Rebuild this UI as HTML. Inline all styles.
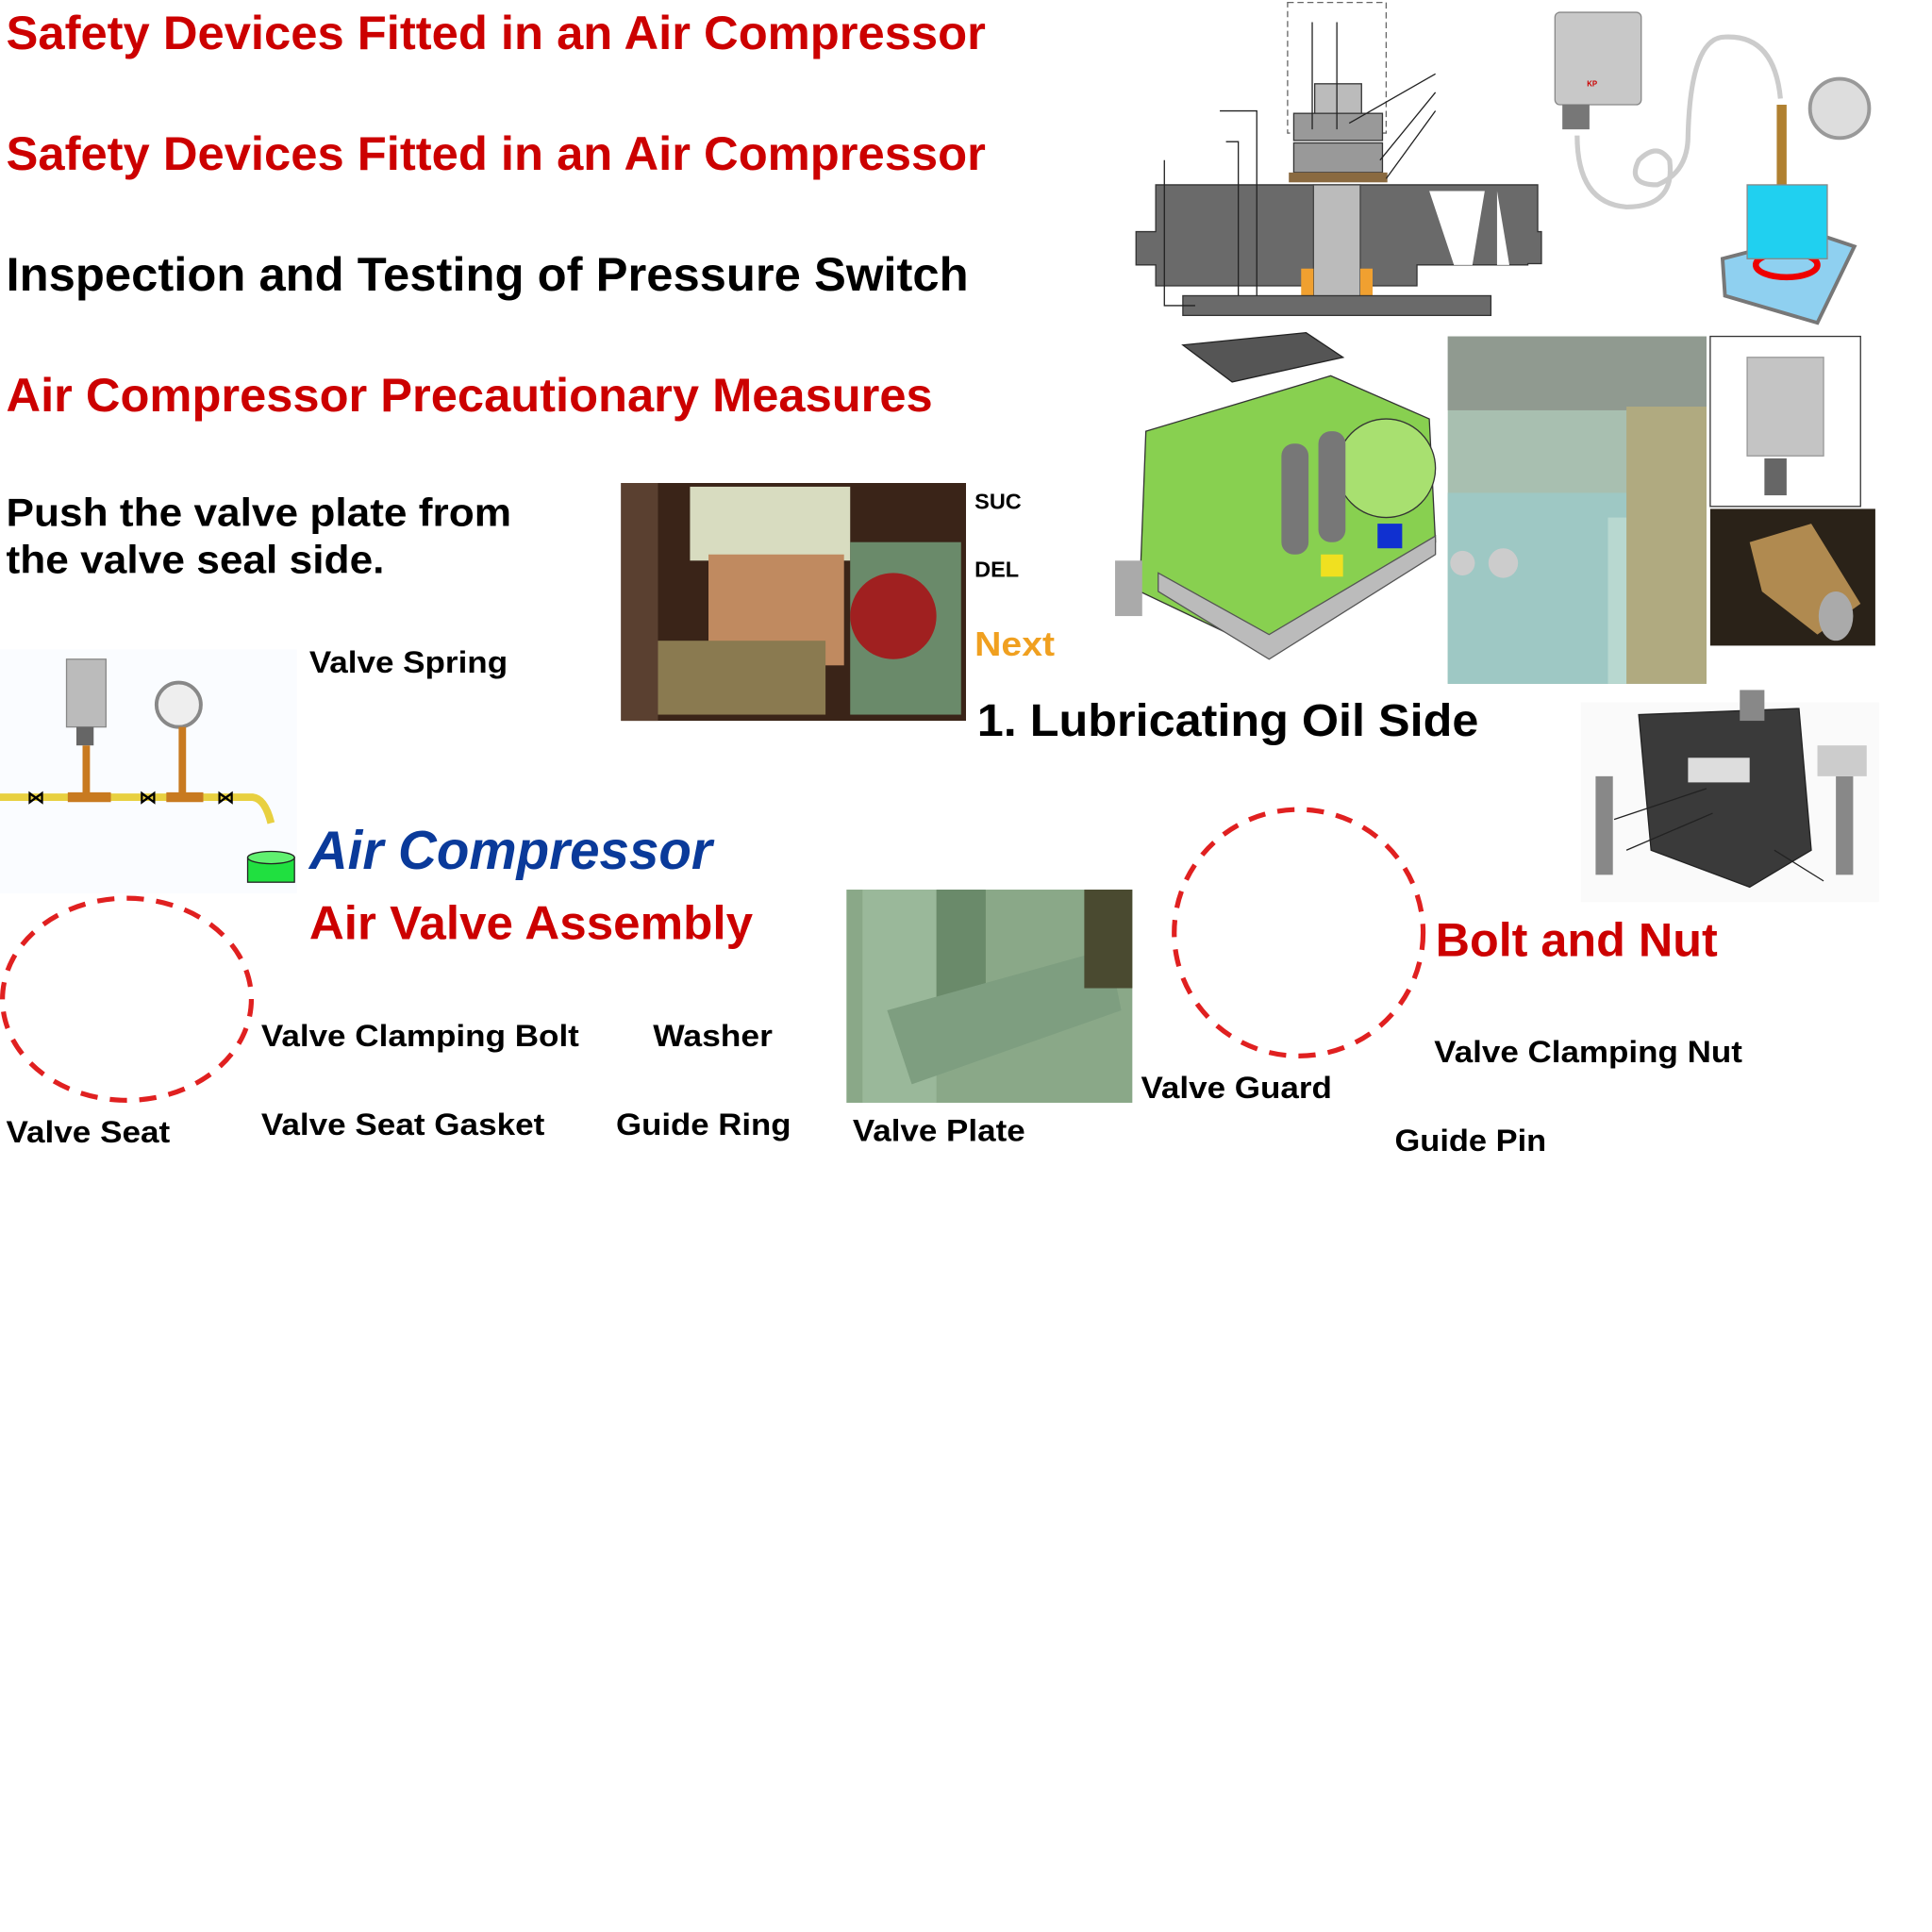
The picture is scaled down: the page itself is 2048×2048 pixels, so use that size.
<!DOCTYPE html>
<html><head><meta charset="utf-8"><style>
html,body{margin:0;padding:0;background:#fff;}
svg{display:block;}
text{font-family:"Liberation Sans",Arial,sans-serif;font-weight:bold;}
</style></head><body>
<svg width="2048" height="2048" viewBox="0 0 1568 1568" xmlns="http://www.w3.org/2000/svg">
<rect width="1568" height="1568" fill="#fff"/>

<text x="5" y="40" font-size="38" fill="#cc0000" textLength="795" lengthAdjust="spacingAndGlyphs">Safety Devices Fitted in an Air Compressor</text>
<text x="5" y="138" font-size="38" fill="#cc0000" textLength="795" lengthAdjust="spacingAndGlyphs">Safety Devices Fitted in an Air Compressor</text>
<text x="5" y="236" font-size="38" fill="#000" textLength="781" lengthAdjust="spacingAndGlyphs">Inspection and Testing of Pressure Switch</text>
<text x="5" y="334" font-size="38" fill="#cc0000" textLength="752" lengthAdjust="spacingAndGlyphs">Air Compressor Precautionary Measures</text>
<text x="5" y="427" font-size="32" fill="#000" textLength="410" lengthAdjust="spacingAndGlyphs">Push the valve plate from</text>
<text x="5" y="465" font-size="32" fill="#000" textLength="307" lengthAdjust="spacingAndGlyphs">the valve seal side.</text>

<g>
<rect x="504" y="392" width="280" height="193" fill="#3a2418"/>
<rect x="560" y="395" width="130" height="60" fill="#d8dcc0"/>
<rect x="575" y="450" width="110" height="90" fill="#c08a60"/>
<rect x="690" y="440" width="90" height="140" fill="#6a8a6a"/>
<circle cx="725" cy="500" r="35" fill="#a02020"/>
<rect x="530" y="520" width="140" height="60" fill="#8a7a50"/>
<rect x="504" y="392" width="30" height="193" fill="#5a4030"/>
</g>
<text x="791" y="413" font-size="18" fill="#000">SUC</text>
<text x="791" y="468" font-size="18" fill="#000">DEL</text>
<text x="791" y="532" font-size="28" fill="#f0a020" textLength="65" lengthAdjust="spacingAndGlyphs">Next</text>
<text x="793" y="597" font-size="37" fill="#000" textLength="407" lengthAdjust="spacingAndGlyphs">1. Lubricating Oil Side</text>

<g>
<rect x="1045" y="2" width="80" height="106" fill="none" stroke="#666" stroke-dasharray="5,3"/>
<rect x="1067" y="68" width="38" height="30" fill="#bbb" stroke="#333"/>
<rect x="1050" y="92" width="72" height="22" fill="#999" stroke="#333"/>
<rect x="1050" y="116" width="72" height="24" fill="#999" stroke="#333"/>
<rect x="1046" y="140" width="80" height="8" fill="#8a6a40"/>
<path d="M938 150 H1248 V188 H1251 V214 H1240 V215 H1150 V232 H938 V215 H922 V188 H938 Z" fill="#6a6a6a" stroke="#333"/>
<rect x="1066" y="150" width="38" height="95" fill="#bbb" stroke="#444"/>
<rect x="1056" y="218" width="10" height="28" fill="#f0a030"/>
<rect x="1104" y="218" width="10" height="28" fill="#f0a030"/>
<rect x="960" y="240" width="250" height="16" fill="#6a6a6a" stroke="#333"/>
<path d="M1160 155 L1180 215 L1195 215 L1205 155 Z M1215 155 L1215 215 L1225 215 Z" fill="#fff"/>
<path d="M1065 18 V105 M1085 18 V105 M1095 100 L1165 60 M1120 130 L1165 75 M1125 145 L1165 90 M990 90 H1020 V240 M995 115 H1005 V240 M945 130 V248 H970" stroke="#222" fill="none" stroke-width="1"/>
</g>

<g>
<rect x="1262" y="10" width="70" height="75" rx="4" fill="#c8c8c8" stroke="#888"/>
<rect x="1268" y="85" width="22" height="20" fill="#777"/>
<text x="1288" y="70" font-size="6" fill="#c00">KP</text>
<path d="M1280 110 Q1280 165 1320 168 Q1360 168 1355 130 Q1345 115 1330 130 Q1320 150 1345 150 Q1370 140 1370 110 Q1372 30 1400 30 Q1440 28 1445 80" fill="none" stroke="#ccc" stroke-width="4"/>
<rect x="1442" y="85" width="8" height="110" fill="#b08030"/>
<circle cx="1493" cy="88" r="24" fill="#ddd" stroke="#999" stroke-width="3"/>
<path d="M1398 210 L1475 190 L1505 200 L1475 262 L1400 240 Z" fill="#8fd0f0" stroke="#777" stroke-width="3"/>
<ellipse cx="1450" cy="215" rx="25" ry="10" fill="none" stroke="#e00" stroke-width="5"/>
<rect x="1418" y="150" width="65" height="60" fill="#20d0f0" stroke="#888"/>
</g>

<g>
<path d="M930 350 L1080 305 L1160 340 L1165 440 L1030 530 L925 480 Z" fill="#88d050" stroke="#333"/>
<circle cx="1125" cy="380" r="40" fill="#a8e070" stroke="#333"/>
<path d="M960 280 L1060 270 L1090 290 L1000 310 Z" fill="#555" stroke="#222"/>
<rect x="1040" y="360" width="22" height="90" rx="10" fill="#777"/>
<rect x="1070" y="350" width="22" height="90" rx="10" fill="#777"/>
<path d="M940 480 L1030 535 L1165 450 L1165 435 L1030 515 L940 465 Z" fill="#bbb" stroke="#555"/>
<rect x="1118" y="425" width="20" height="20" fill="#1030d0"/>
<rect x="1072" y="450" width="18" height="18" fill="#f0e020"/>
<rect x="905" y="455" width="22" height="45" fill="#aaa"/>
</g>

<g>
<rect x="1175" y="273" width="210" height="282" fill="#a8bfb0"/>
<rect x="1175" y="273" width="210" height="60" fill="#909a90"/>
<rect x="1175" y="400" width="150" height="155" fill="#9ec8c4"/>
<rect x="1305" y="420" width="40" height="135" fill="#b8d8d0"/>
<circle cx="1187" cy="457" r="10" fill="#ccc"/>
<circle cx="1220" cy="457" r="12" fill="#ccc"/>
<rect x="1320" y="330" width="65" height="225" fill="#b0aa80"/>
</g>

<g>
<rect x="1388" y="273" width="122" height="138" fill="#fff" stroke="#333"/>
<rect x="1418" y="290" width="62" height="80" fill="#c4c4c4" stroke="#999"/>
<rect x="1432" y="372" width="18" height="30" fill="#666"/>
</g>
<g>
<rect x="1388" y="413" width="134" height="111" fill="#2a2218"/>
<path d="M1420 440 L1470 425 L1510 490 L1475 515 L1430 480 Z" fill="#b08a50"/>
<ellipse cx="1490" cy="500" rx="14" ry="20" fill="#aaa"/>
</g>

<g>
<rect x="0" y="527" width="241" height="198" fill="#fafcff"/>
<rect x="54" y="535" width="32" height="55" fill="#bbb" stroke="#888"/>
<rect x="62" y="590" width="14" height="15" fill="#666"/>
<circle cx="145" cy="572" r="18" fill="#eee" stroke="#888" stroke-width="3"/>
<path d="M70 605 V645 M148 590 V645" stroke="#c87a20" stroke-width="6"/>
<path d="M0 647 H205 Q215 648 220 668" stroke="#e8d040" stroke-width="6" fill="none"/>
<path d="M55 647 H90 M135 647 H165" stroke="#c87a20" stroke-width="8"/>
<text x="22" y="652" font-size="14" fill="#000">⋈</text>
<text x="113" y="652" font-size="14" fill="#000">⋈</text>
<text x="176" y="652" font-size="14" fill="#000">⋈</text>
<rect x="201" y="696" width="38" height="20" fill="#20e040" stroke="#222"/>
<ellipse cx="220" cy="696" rx="19" ry="5" fill="#60f070" stroke="#222"/>
</g>
<text x="251" y="546" font-size="25" fill="#000" textLength="161" lengthAdjust="spacingAndGlyphs">Valve Spring</text>

<text x="251" y="705" font-size="44" font-style="italic" fill="#0a3a9a" textLength="327" lengthAdjust="spacingAndGlyphs">Air Compressor</text>
<text x="251" y="762" font-size="38" fill="#cc0000" textLength="360" lengthAdjust="spacingAndGlyphs">Air Valve Assembly</text>

<g>
<rect x="687" y="722" width="232" height="173" fill="#8aa888"/>
<rect x="700" y="722" width="60" height="173" fill="#9ab89a"/>
<rect x="760" y="722" width="40" height="100" fill="#6a8a6a"/>
<path d="M720 820 L900 770 L910 820 L740 880 Z" fill="#7e9e80"/>
<rect x="880" y="722" width="39" height="80" fill="#4a4a30"/>
</g>

<g>
<rect x="1283" y="570" width="242" height="162" fill="#fafafa"/>
<path d="M1330 580 L1460 575 L1470 690 L1420 720 L1340 690 Z" fill="#3a3a3a" stroke="#222"/>
<rect x="1412" y="560" width="20" height="25" fill="#888"/>
<rect x="1370" y="615" width="50" height="20" fill="#ddd"/>
<rect x="1295" y="630" width="14" height="80" fill="#888"/>
<rect x="1490" y="630" width="14" height="80" fill="#888"/>
<rect x="1475" y="605" width="40" height="25" fill="#ccc"/>
<path d="M1310 665 L1385 640 M1320 690 L1390 660 M1440 690 L1480 715" stroke="#222"/>
</g>

<ellipse cx="103" cy="811" rx="101" ry="82" fill="none" stroke="#e02020" stroke-width="4" stroke-dasharray="14,10"/>
<ellipse cx="1054" cy="757" rx="101" ry="100" fill="none" stroke="#e02020" stroke-width="4" stroke-dasharray="14,10"/>

<text x="1165" y="776" font-size="38" fill="#cc0000" textLength="229" lengthAdjust="spacingAndGlyphs">Bolt and Nut</text>

<text x="212" y="849" font-size="25" fill="#000" textLength="258" lengthAdjust="spacingAndGlyphs">Valve Clamping Bolt</text>
<text x="530" y="849" font-size="25" fill="#000" textLength="97" lengthAdjust="spacingAndGlyphs">Washer</text>
<text x="5" y="927" font-size="25" fill="#000" textLength="133" lengthAdjust="spacingAndGlyphs">Valve Seat</text>
<text x="212" y="921" font-size="25" fill="#000" textLength="230" lengthAdjust="spacingAndGlyphs">Valve Seat Gasket</text>
<text x="500" y="921" font-size="25" fill="#000" textLength="142" lengthAdjust="spacingAndGlyphs">Guide Ring</text>
<text x="692" y="926" font-size="25" fill="#000" textLength="140" lengthAdjust="spacingAndGlyphs">Valve Plate</text>
<text x="926" y="891" font-size="25" fill="#000" textLength="155" lengthAdjust="spacingAndGlyphs">Valve Guard</text>
<text x="1164" y="862" font-size="25" fill="#000" textLength="250" lengthAdjust="spacingAndGlyphs">Valve Clamping Nut</text>
<text x="1132" y="934" font-size="25" fill="#000" textLength="123" lengthAdjust="spacingAndGlyphs">Guide Pin</text>
</svg>
</body></html>
